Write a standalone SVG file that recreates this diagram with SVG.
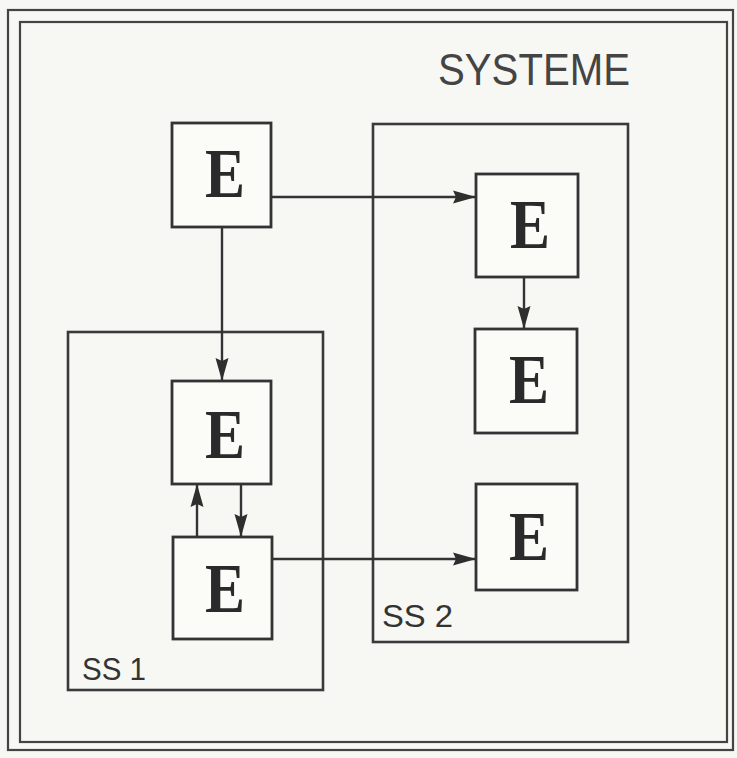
<svg xmlns="http://www.w3.org/2000/svg" width="737" height="758" viewBox="0 0 737 758">
  <defs>
    <marker id="arrow" markerUnits="userSpaceOnUse" markerWidth="24" markerHeight="14" refX="23" refY="7" orient="auto">
      <path d="M0,0.5 L23,7 L0,13.5 L3,7 z" fill="#2e2e2e"/>
    </marker>
    <style>
      .frame { fill: none; stroke: #444; stroke-width: 2.2; }
      .sub { fill: none; stroke: #3a3a3a; stroke-width: 2.6; }
      .box { fill: #fbfbf8; stroke: #333; stroke-width: 2.8; }
      .letter { font-family: "Liberation Serif", "DejaVu Serif", serif; font-weight: bold; font-size: 70px; fill: #2a2a2a; text-anchor: middle; }
      .label { font-family: "Liberation Sans", "DejaVu Sans", sans-serif; font-size: 31px; fill: #333; }
      .title { font-family: "Liberation Sans", "DejaVu Sans", sans-serif; font-size: 44px; fill: #444; }
      .conn { fill: none; stroke: #333; stroke-width: 2.4; marker-end: url(#arrow); }
    </style>
  </defs>
  <rect x="0" y="0" width="737" height="758" fill="#f7f7f4"/>

  <g id="frame">
    <rect class="frame" x="8" y="10" width="725" height="740"/>
    <rect class="frame" x="20" y="22" width="707" height="720"/>
    <text class="title" x="438" y="85" textLength="192" lengthAdjust="spacingAndGlyphs">SYSTEME</text>
  </g>

  <g id="ss1">
    <rect class="sub" x="68" y="332" width="255" height="358"/>
    <text class="label" x="82" y="680" textLength="64" lengthAdjust="spacingAndGlyphs">SS 1</text>
  </g>

  <g id="ss2">
    <rect class="sub" x="373" y="124" width="255" height="518"/>
    <text class="label" x="382" y="627" textLength="71" lengthAdjust="spacingAndGlyphs">SS 2</text>
  </g>

  <g id="connectors">
    <line class="conn" x1="271" y1="197" x2="476" y2="197"/>
    <line class="conn" x1="222" y1="227" x2="222" y2="381"/>
    <line class="conn" x1="524" y1="277" x2="524" y2="329"/>
    <line class="conn" x1="197" y1="537" x2="197" y2="484"/>
    <line class="conn" x1="241" y1="484" x2="241" y2="537"/>
    <line class="conn" x1="272" y1="559" x2="476" y2="559"/>
  </g>

  <g id="e1">
    <rect class="box" x="172" y="123" width="99" height="104"/>
    <text class="letter" x="225" y="197" textLength="40" lengthAdjust="spacingAndGlyphs">E</text>
  </g>
  <g id="e2">
    <rect class="box" x="476" y="174" width="102" height="103"/>
    <text class="letter" x="530" y="248" textLength="40" lengthAdjust="spacingAndGlyphs">E</text>
  </g>
  <g id="e3">
    <rect class="box" x="475" y="329" width="102" height="104"/>
    <text class="letter" x="529" y="403" textLength="40" lengthAdjust="spacingAndGlyphs">E</text>
  </g>
  <g id="e4">
    <rect class="box" x="476" y="484" width="101" height="106"/>
    <text class="letter" x="529" y="560" textLength="40" lengthAdjust="spacingAndGlyphs">E</text>
  </g>
  <g id="e5">
    <rect class="box" x="172" y="381" width="99" height="103"/>
    <text class="letter" x="225" y="458" textLength="40" lengthAdjust="spacingAndGlyphs">E</text>
  </g>
  <g id="e6">
    <rect class="box" x="173" y="537" width="99" height="102"/>
    <text class="letter" x="225" y="612" textLength="40" lengthAdjust="spacingAndGlyphs">E</text>
  </g>
</svg>
